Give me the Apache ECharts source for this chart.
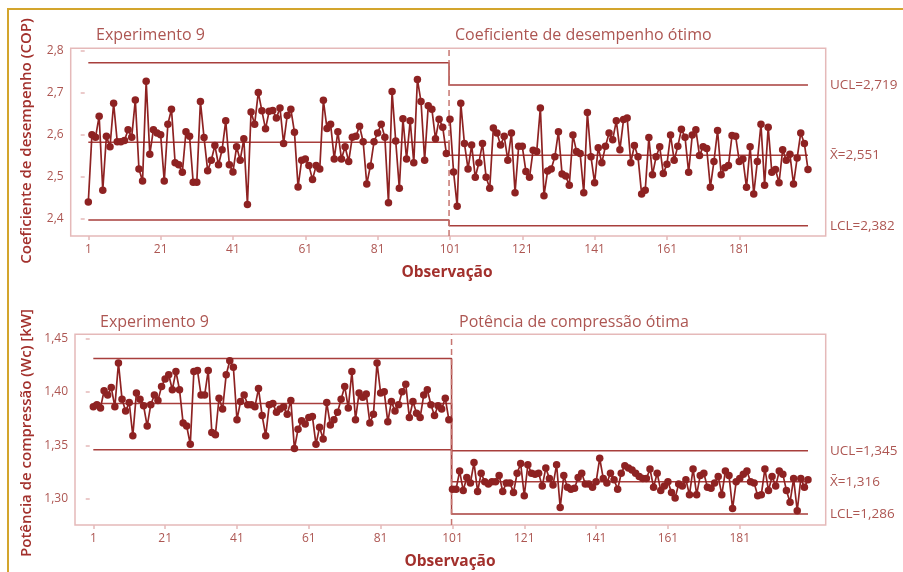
<!DOCTYPE html>
<html>
<head>
<meta charset="utf-8">
<script src="https://cdn.jsdelivr.net/npm/echarts@6/dist/echarts.min.js"></script>
<style>
  html, body { margin: 0; padding: 0; background: #ffffff; }
  #chart { width: 903px; height: 572px; }
</style>
</head>
<body>
<div id="chart"></div>
<script>
// Coeficiente de desempenho (COP) — Experimento 9, observações 1–100
const copExp = [
  2.439, 2.600, 2.594, 2.644, 2.467, 2.596, 2.571, 2.675, 2.583, 2.583,
  2.586, 2.612, 2.594, 2.683, 2.518, 2.489, 2.728, 2.553, 2.612, 2.604,
  2.600, 2.489, 2.625, 2.661, 2.533, 2.528, 2.510, 2.607, 2.596, 2.486,
  2.486, 2.679, 2.593, 2.514, 2.539, 2.574, 2.528, 2.564, 2.633, 2.528,
  2.511, 2.571, 2.539, 2.590, 2.433, 2.654, 2.625, 2.701, 2.657, 2.614,
  2.656, 2.658, 2.640, 2.664, 2.579, 2.646, 2.661, 2.606, 2.475, 2.539,
  2.542, 2.526, 2.493, 2.526, 2.518, 2.682, 2.615, 2.625, 2.542, 2.607,
  2.542, 2.571, 2.536, 2.594, 2.596, 2.620, 2.583, 2.482, 2.525, 2.583,
  2.604, 2.625, 2.594, 2.437, 2.703, 2.585, 2.472, 2.638, 2.542, 2.633,
  2.533, 2.732, 2.679, 2.539, 2.669, 2.661, 2.590, 2.637, 2.618, 2.555
];
// COP ótimo — observações 101–200
const copOpt = [
  2.637, 2.511, 2.429, 2.675, 2.579, 2.518, 2.575, 2.498, 2.533, 2.579,
  2.498, 2.472, 2.616, 2.604, 2.575, 2.596, 2.539, 2.604, 2.461, 2.572,
  2.572, 2.512, 2.498, 2.563, 2.560, 2.664, 2.454, 2.513, 2.518, 2.547,
  2.607, 2.506, 2.501, 2.479, 2.599, 2.560, 2.555, 2.461, 2.653, 2.547,
  2.485, 2.569, 2.533, 2.572, 2.604, 2.588, 2.633, 2.564, 2.636, 2.640,
  2.533, 2.574, 2.547, 2.458, 2.467, 2.593, 2.504, 2.547, 2.571, 2.507,
  2.529, 2.599, 2.539, 2.572, 2.613, 2.594, 2.510, 2.599, 2.612, 2.550,
  2.571, 2.567, 2.474, 2.536, 2.610, 2.504, 2.521, 2.526, 2.598, 2.596,
  2.536, 2.542, 2.474, 2.571, 2.458, 2.536, 2.625, 2.479, 2.618, 2.510,
  2.517, 2.485, 2.564, 2.539, 2.553, 2.482, 2.544, 2.604, 2.579, 2.517
];
// Potência de compressão (Wc) [kW] — Experimento 9
const wcExp = [
  1.386, 1.388, 1.385, 1.401, 1.397, 1.404, 1.386, 1.427, 1.393, 1.382,
  1.390, 1.359, 1.399, 1.393, 1.387, 1.368, 1.388, 1.397, 1.392, 1.405,
  1.412, 1.416, 1.402, 1.419, 1.402, 1.371, 1.368, 1.351, 1.419, 1.420,
  1.397, 1.397, 1.420, 1.362, 1.360, 1.394, 1.384, 1.416, 1.429, 1.423,
  1.374, 1.391, 1.397, 1.388, 1.388, 1.386, 1.403, 1.378, 1.359, 1.388,
  1.389, 1.381, 1.384, 1.386, 1.379, 1.392, 1.347, 1.365, 1.373, 1.370,
  1.376, 1.377, 1.351, 1.367, 1.356, 1.390, 1.369, 1.374, 1.381, 1.393,
  1.405, 1.385, 1.419, 1.374, 1.399, 1.395, 1.398, 1.371, 1.379, 1.427,
  1.399, 1.400, 1.372, 1.391, 1.382, 1.388, 1.400, 1.407, 1.376, 1.391,
  1.380, 1.376, 1.397, 1.402, 1.388, 1.378, 1.387, 1.384, 1.394, 1.374
];
// Potência de compressão ótima
const wcOpt = [
  1.309, 1.309, 1.326, 1.308, 1.320, 1.315, 1.334, 1.307, 1.324, 1.316,
  1.314, 1.316, 1.316, 1.322, 1.307, 1.315, 1.315, 1.306, 1.324, 1.333,
  1.303, 1.332, 1.324, 1.323, 1.324, 1.312, 1.329, 1.319, 1.313, 1.332,
  1.292, 1.322, 1.311, 1.309, 1.310, 1.320, 1.324, 1.314, 1.314, 1.311,
  1.316, 1.338, 1.319, 1.315, 1.324, 1.318, 1.309, 1.324, 1.331, 1.329,
  1.327, 1.324, 1.321, 1.319, 1.319, 1.328, 1.311, 1.324, 1.308, 1.312,
  1.316, 1.306, 1.301, 1.314, 1.312, 1.318, 1.304, 1.328, 1.304, 1.322,
  1.324, 1.311, 1.310, 1.315, 1.321, 1.304, 1.326, 1.322, 1.291, 1.316,
  1.319, 1.323, 1.326, 1.316, 1.315, 1.303, 1.304, 1.328, 1.308, 1.321,
  1.312, 1.326, 1.323, 1.308, 1.297, 1.319, 1.289, 1.319, 1.311, 1.318
];

// Control limits per stage: [UCL, center, LCL]
const copLimitsExp = [2.772, 2.582, 2.396];
const copLimitsOpt = [2.719, 2.551, 2.382];
const wcLimitsExp = [1.431, 1.389, 1.346];
const wcLimitsOpt = [1.345, 1.316, 1.286];

const xTicks = [1, 21, 41, 61, 81, 101, 121, 141, 161, 181];
const copTicks = [2.4, 2.5, 2.6, 2.7, 2.8];
const wcTicks = [1.30, 1.35, 1.40, 1.45];

const stageTitles = ['Experimento 9', 'Coeficiente de desempenho ótimo', 'Experimento 9', 'Potência de compressão ótima'];
const yNames = ['Coeficiente de desempenho (COP)', 'Potência de compressão (Wc) [kW]'];
const xName = 'Observação';

const FONT = '"Open Sans", "Noto Sans", sans-serif';
const C_POINT = '#8e2222';
const C_LIMIT = '#a83f3c';
const C_FRAME = '#e5b9b9';
const C_TEXT = '#ad5652';
const C_NAME = '#a2302c';
const STAGE_X = 100.75;

const comma = (v, d) => v.toFixed(d).replace('.', ',');

function pts(arr, start) {
  return arr.map((v, i) => [start + i, v]);
}

function stepLine(expVal, optVal) {
  return [[1, expVal], [STAGE_X, expVal], [STAGE_X, optVal], [200, optVal]];
}

function limitSeries(idx, expLim, optLim) {
  const names = ['UCL', 'X\u0304', 'LCL'];
  return [0, 1, 2].map(k => ({
    type: 'line',
    xAxisIndex: idx, yAxisIndex: idx,
    data: stepLine(expLim[k], optLim[k]),
    symbol: 'none',
    silent: true,
    lineStyle: { color: C_LIMIT, width: 1.5 },
    z: 2,
    endLabel: {
      show: true,
      distance: 22,
      color: C_TEXT,
      fontFamily: FONT,
      fontSize: 13.5,
      formatter: p => names[k] + '=' + comma(p.value[1], 3)
    }
  }));
}

function dataSeries(idx, arr, start) {
  return {
    type: 'line',
    xAxisIndex: idx, yAxisIndex: idx,
    data: pts(arr, start),
    symbol: 'circle',
    symbolSize: 7.5,
    showAllSymbol: true,
    lineStyle: { color: C_POINT, width: 1.7 },
    itemStyle: { color: C_POINT },
    z: 5
  };
}

function stageDivider(idx, yMin, yMax) {
  return {
    type: 'line',
    xAxisIndex: idx, yAxisIndex: idx,
    data: [[STAGE_X, yMin], [STAGE_X, yMax]],
    symbol: 'none',
    silent: true,
    lineStyle: { color: '#c77570', width: 1.5, type: [6, 4] },
    z: 3
  };
}

function xAxisCfg(idx, min, max) {
  return {
    type: 'value', gridIndex: idx, min: min, max: max,
    axisLine: { show: false },
    splitLine: { show: false },
    axisTick: { show: true, customValues: xTicks, length: 4, lineStyle: { color: C_FRAME, width: 1.5 } },
    axisLabel: { customValues: xTicks, margin: 8, color: C_TEXT, fontFamily: FONT, fontSize: 12 }
  };
}

function yAxisCfg(idx, min, max, ticks, dec) {
  return {
    type: 'value', gridIndex: idx, min: min, max: max,
    axisLine: { show: false },
    splitLine: { show: false },
    axisTick: { show: true, customValues: ticks, length: 4, lineStyle: { color: C_FRAME, width: 1.5 } },
    axisLabel: { customValues: ticks, margin: 7, color: C_TEXT, fontFamily: FONT, fontSize: 12,
      formatter: v => comma(v, dec) }
  };
}

const copRange = [2.3577, 2.8065];
const wcRange = [1.2757, 1.4537];

const textStyle = (size, color, weight) => ({ fill: color, font: `${weight || 'normal'} ${size}px ${FONT}` });

const chart = echarts.init(document.getElementById('chart'), null, { renderer: 'canvas' });
chart.setOption({
  backgroundColor: '#ffffff',
  animation: false,
  grid: [
    { left: 70.7, top: 48.3, width: 755, height: 187.7, show: true, borderColor: C_FRAME, borderWidth: 1.5 },
    { left: 75, top: 334.3, width: 750.7, height: 190.7, show: true, borderColor: C_FRAME, borderWidth: 1.5 }
  ],
  xAxis: [xAxisCfg(0, -3.87, 204.9), xAxisCfg(1, -4.1, 204.93)],
  yAxis: [yAxisCfg(0, copRange[0], copRange[1], copTicks, 1), yAxisCfg(1, wcRange[0], wcRange[1], wcTicks, 2)],
  series: [
    stageDivider(0, copRange[0], copRange[1]),
    ...limitSeries(0, copLimitsExp, copLimitsOpt),
    dataSeries(0, copExp, 1),
    dataSeries(0, copOpt, 101),
    stageDivider(1, wcRange[0], wcRange[1]),
    ...limitSeries(1, wcLimitsExp, wcLimitsOpt),
    dataSeries(1, wcExp, 1),
    dataSeries(1, wcOpt, 101)
  ],
  graphic: [
    // page frame
    { type: 'line', shape: { x1: 8, y1: 9, x2: 903, y2: 9 }, style: { stroke: '#d3a52d', lineWidth: 2 } },
    { type: 'line', shape: { x1: 8, y1: 8, x2: 8, y2: 572 }, style: { stroke: '#d3a52d', lineWidth: 2 } },
    // stage titles
    { type: 'text', left: 96, top: 27, style: Object.assign({ text: stageTitles[0] }, textStyle(16, C_TEXT)) },
    { type: 'text', left: 455, top: 27, style: Object.assign({ text: stageTitles[1] }, textStyle(16, C_TEXT)) },
    { type: 'text', left: 100, top: 314, style: Object.assign({ text: stageTitles[2] }, textStyle(16, C_TEXT)) },
    { type: 'text', left: 459, top: 314, style: Object.assign({ text: stageTitles[3] }, textStyle(16, C_TEXT)) },
    // y axis names
    { type: 'text', x: 27, y: 141, rotation: Math.PI / 2,
      style: Object.assign({ text: yNames[0], align: 'center', verticalAlign: 'middle' }, textStyle(15, C_NAME, '600')) },
    { type: 'text', x: 27, y: 433, rotation: Math.PI / 2,
      style: Object.assign({ text: yNames[1], align: 'center', verticalAlign: 'middle' }, textStyle(15, C_NAME, '600')) },
    // x axis names
    { type: 'text', x: 447, y: 273,
      style: Object.assign({ text: xName, align: 'center', verticalAlign: 'middle' }, textStyle(15.5, C_NAME, 'bold')) },
    { type: 'text', x: 450, y: 562,
      style: Object.assign({ text: xName, align: 'center', verticalAlign: 'middle' }, textStyle(15.5, C_NAME, 'bold')) }
  ]
});
</script>
</body>
</html>
